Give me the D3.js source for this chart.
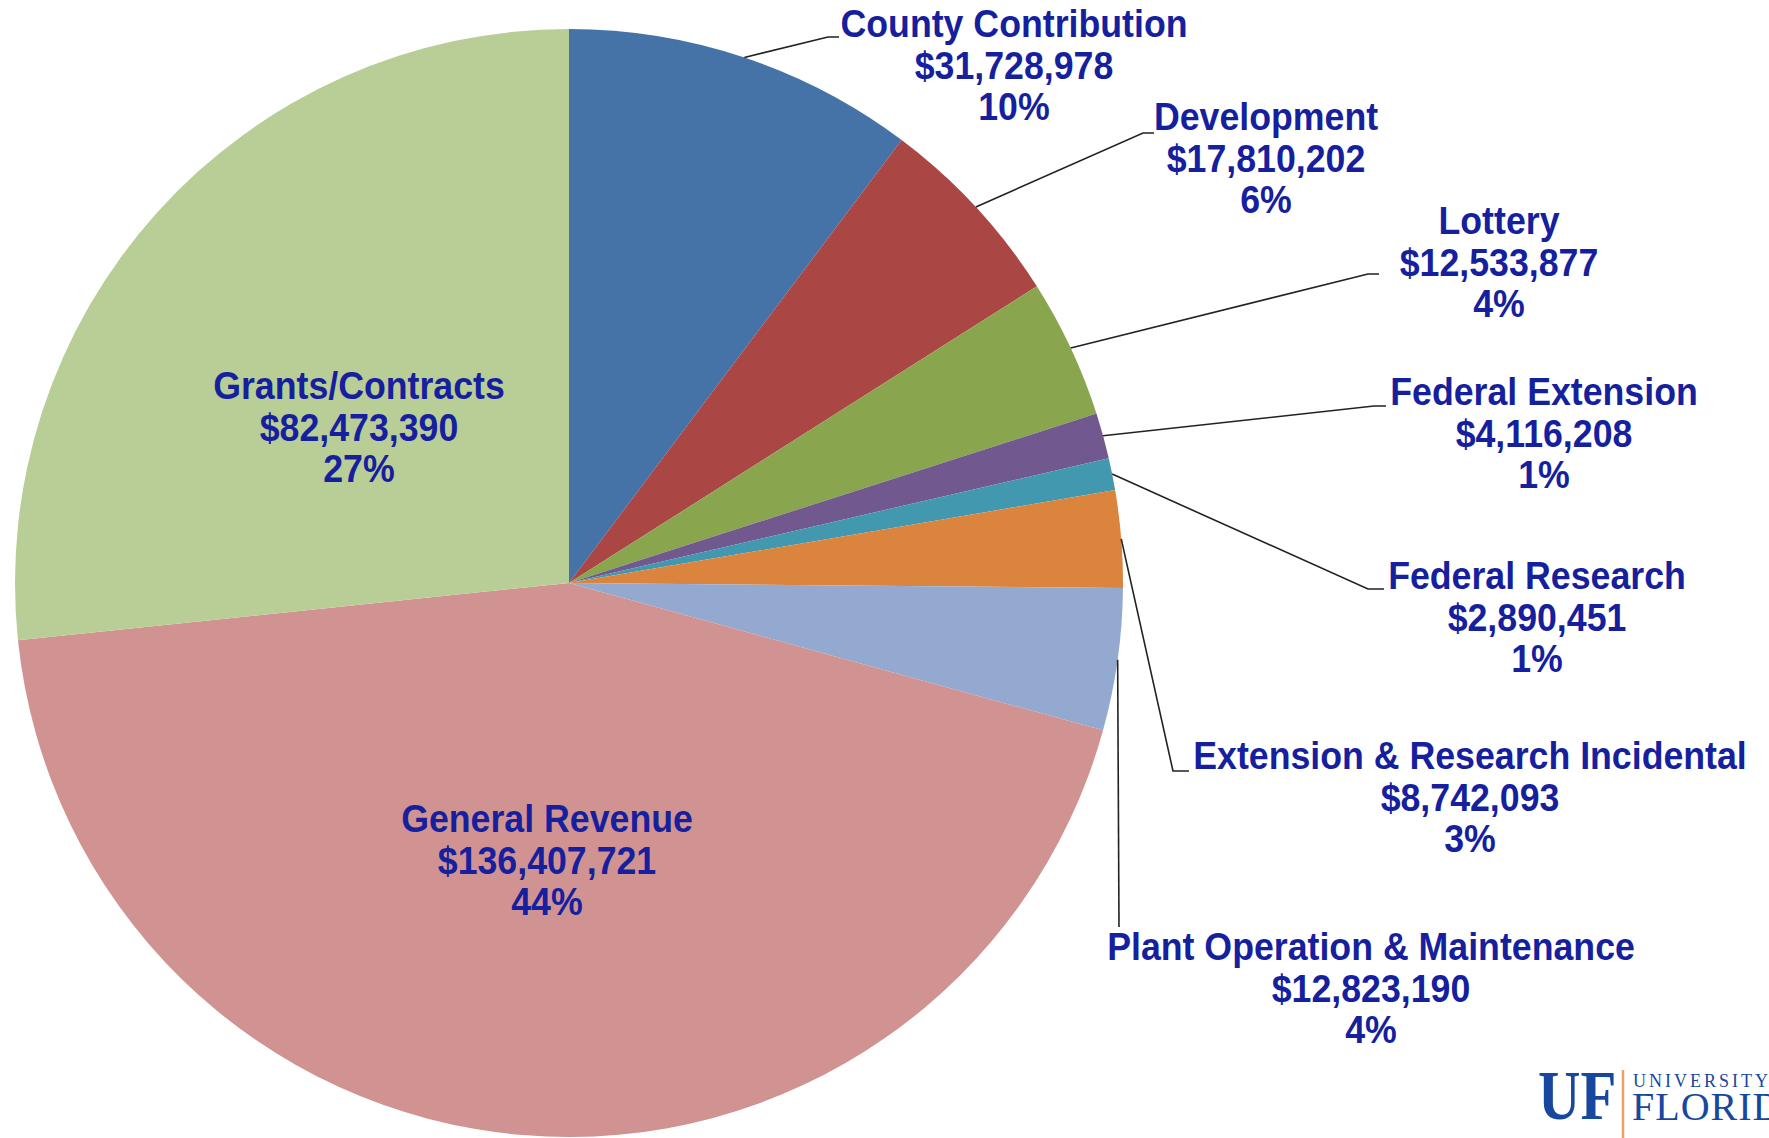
<!DOCTYPE html>
<html>
<head>
<meta charset="utf-8">
<script src="https://cdn.jsdelivr.net/npm/d3@7"></script>
<style>
  html, body { margin: 0; padding: 0; background: #fff; }
  svg { display: block; }
</style>
</head>
<body>
<div id="chart"></div>
<script>
// Funding sources, clockwise from 12 o'clock
const categories = [
    'County Contribution',
    'Development',
    'Lottery',
    'Federal Extension',
    'Federal Research',
    'Extension & Research Incidental',
    'Plant Operation & Maintenance',
    'General Revenue',
    'Grants/Contracts'
];
const amounts = [31728978, 17810202, 12533877, 4116208, 2890451, 8742093, 12823190, 136407721, 82473390];
const colors = ['#4572a7', '#aa4643', '#89a54e', '#71588f', '#4198af', '#db843d', '#93a9cf', '#d19392', '#b9cd96'];

const width = 1769;
const height = 1138;
const cx = 569;
const cy = 583;
const radius = 554;

// label placement (Excel style, placed by hand): centre x, first baseline, leader bend + end
const labelLayout = {
    'County Contribution': {x: 1014, y: 37, bend: [828, 37], end: [839, 37]},
    'Development': {x: 1266, y: 130, bend: [1143, 133], end: [1154, 133]},
    'Lottery': {x: 1499, y: 234, bend: [1368, 274], end: [1379, 274]},
    'Federal Extension': {x: 1544, y: 405, bend: [1374, 406], end: [1386, 406]},
    'Federal Research': {x: 1537, y: 589, bend: [1368, 589], end: [1384, 589]},
    'Extension & Research Incidental': {x: 1470, y: 769, bend: [1173, 771], end: [1189, 771]},
    'Plant Operation & Maintenance': {x: 1371, y: 960, bend: [1119, 927], end: [1119, 927]},
    'General Revenue': {x: 547, y: 832},
    'Grants/Contracts': {x: 359, y: 399}
};

const total = d3.sum(amounts);
const fmtMoney = d3.format('$,');
const fmtPct = d3.format('.0%');
const lineGap = 41.7;
const textColor = '#161f9e';

const rows = categories.map((name, i) => {
    return {name: name, value: amounts[i], color: colors[i]};
});

const svg = d3.select('#chart').append('svg')
    .attr('width', width)
    .attr('height', height);

const g = svg.append('g')
    .attr('transform', 'translate(' + cx + ',' + cy + ')');

const pie = d3.pie()
    .sort(null)
    .value((d) => { return d.value });

const arc = d3.arc()
    .innerRadius(0)
    .outerRadius(radius);

const edge = d3.arc()
    .innerRadius(radius)
    .outerRadius(radius);

const arcs = pie(rows);

g.selectAll('.slice')
    .data(arcs)
    .enter()
  .append('path')
    .attr('class', 'slice')
    .attr('d', arc)
    .style('fill', (d) => { return d.data.color });

// leader lines
const leaders = arcs.filter((d) => { return labelLayout[d.data.name].bend });

svg.selectAll('.leader')
    .data(leaders)
    .enter()
  .append('polyline')
    .attr('class', 'leader')
    .attr('points', (d) => {
        const c = edge.centroid(d);
        const l = labelLayout[d.data.name];
        return [[c[0] + cx, c[1] + cy], l.bend, l.end].map((p) => { return p.join(',') }).join(' ');
    })
    .style('fill', 'none')
    .style('stroke', '#222')
    .style('stroke-width', 1.6);

// labels
const label = svg.selectAll('.label')
    .data(arcs)
    .enter()
  .append('g')
    .attr('class', 'label')
    .attr('transform', (d) => {
        const l = labelLayout[d.data.name];
        return 'translate(' + l.x + ',' + l.y + ') scale(0.94,1)';
    });

label.selectAll('text')
    .data((d) => {
        return [d.data.name, fmtMoney(d.data.value), fmtPct(d.data.value / total)];
    })
    .enter()
  .append('text')
    .attr('y', (d, i) => { return i * lineGap })
    .attr('text-anchor', 'middle')
    .style('font-family', '"Liberation Sans", Arial, sans-serif')
    .style('font-weight', 'bold')
    .style('font-size', '38px')
    .style('fill', textColor)
    .text((d) => { return d });

// UF logo, cut off at the right edge like the original
const logo = svg.append('g').attr('class', 'logo');

logo.append('text')
    .attr('transform', 'translate(1538,1119) scale(0.84,1)')
    .style('font-family', '"Liberation Serif", serif')
    .style('font-weight', 'bold')
    .style('font-size', '70px')
    .style('fill', '#17479e')
    .text('UF');

logo.append('line')
    .attr('x1', 1623).attr('x2', 1623)
    .attr('y1', 1070).attr('y2', height)
    .style('stroke', '#f0a060')
    .style('stroke-width', 2.5);

logo.append('text')
    .attr('x', 1633)
    .attr('y', 1087)
    .style('font-family', '"Liberation Serif", serif')
    .style('font-size', '18px')
    .style('letter-spacing', '3px')
    .style('fill', '#17479e')
    .text('UNIVERSITY');

logo.append('text')
    .attr('x', 1632)
    .attr('y', 1120)
    .style('font-family', '"Liberation Serif", serif')
    .style('font-size', '40px')
    .style('letter-spacing', '1px')
    .style('fill', '#17479e')
    .text('FLORIDA');
</script>
</body>
</html>
